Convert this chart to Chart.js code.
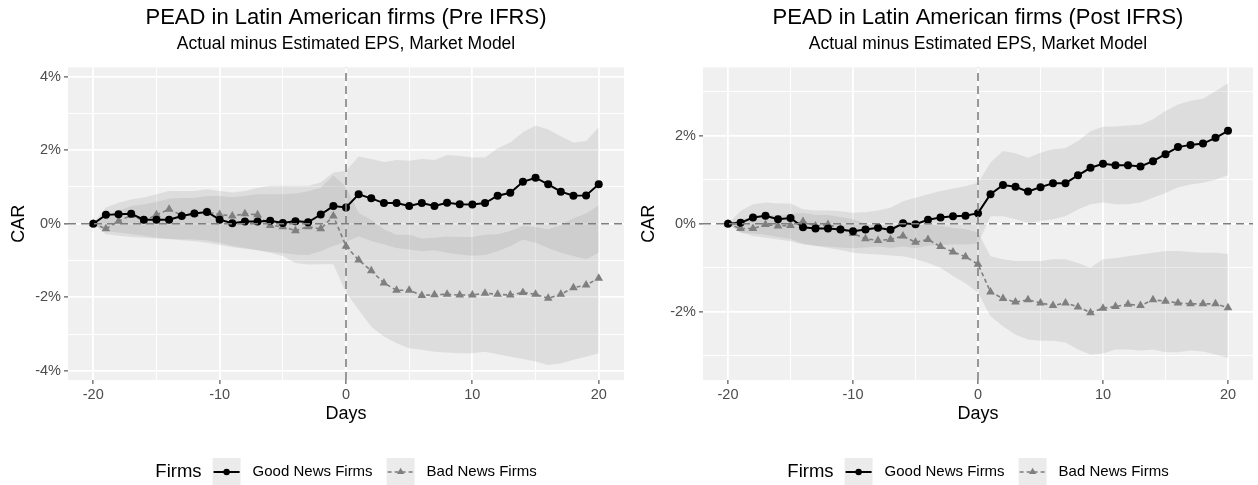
<!DOCTYPE html>
<html>
<head>
<meta charset="utf-8">
<title>PEAD in Latin American firms</title>
<script src="https://cdn.jsdelivr.net/npm/chart.js"></script>
<style>
  html, body { margin: 0; padding: 0; background: #fff; }
  .wrap { display: flex; width: 1258px; height: 485px; }
  canvas { display: block; }
</style>
</head>
<body>
<div class="wrap">
  <canvas id="chartPre" width="629" height="485"></canvas>
  <canvas id="chartPost" width="629" height="485"></canvas>
</div>
<script>
// Event days
const days = [-20, -19, -18, -17, -16, -15, -14, -13, -12, -11,
              -10, -9, -8, -7, -6, -5, -4, -3, -2, -1,
              0,
              1, 2, 3, 4, 5, 6, 7, 8, 9, 10,
              11, 12, 13, 14, 15, 16, 17, 18, 19, 20];

// Pre IFRS (CAR in %)
const preGood = [0, 0.24, 0.26, 0.27, 0.11, 0.11, 0.11, 0.21, 0.28, 0.32,
                 0.11, 0.01, 0.06, 0.06, 0.08, 0.02, 0.07, 0.04, 0.25, 0.48,
                 0.44,
                 0.80, 0.69, 0.56, 0.56, 0.48, 0.56, 0.48, 0.57, 0.53, 0.52,
                 0.56, 0.76, 0.84, 1.14, 1.25, 1.07, 0.87, 0.76, 0.77, 1.07];
const preBad = [0, -0.14, 0.07, 0.23, 0.08, 0.24, 0.39, 0.23, 0.27, 0.32,
                0.25, 0.21, 0.27, 0.24, -0.05, -0.08, -0.19, -0.08, -0.14, 0.21,
                -0.61,
                -0.99, -1.28, -1.61, -1.81, -1.81, -1.95, -1.93, -1.92, -1.94, -1.94,
                -1.89, -1.92, -1.94, -1.87, -1.92, -2.03, -1.92, -1.74, -1.67, -1.48];
const preGoodHi = [0, 0.44, 0.57, 0.66, 0.71, 0.80, 0.89, 0.89, 0.89, 0.94,
                   0.89, 0.85, 0.89, 0.98, 1.03, 1.03, 1.03, 1.03, 1.12, 1.39,
                   1.44,
                   1.83, 1.76, 1.68, 1.73, 1.71, 1.76, 1.73, 1.87, 1.84, 1.80,
                   1.80, 2.05, 2.21, 2.49, 2.67, 2.56, 2.38, 2.21, 2.25, 2.62];
const preGoodLo = [0, -0.20, -0.24, -0.28, -0.33, -0.38, -0.42, -0.45, -0.48, -0.52,
                   -0.58, -0.64, -0.68, -0.72, -0.76, -0.80, -0.84, -0.85, -0.75, -0.60,
                   -0.50,
                   -0.34, -0.47, -0.56, -0.66, -0.70, -0.75, -0.72, -0.79, -0.84, -0.87,
                   -0.85, -0.75, -0.61, -0.43, -0.52, -0.66, -0.79, -0.88, -0.97, -0.79];
const preBadHi = [0, 0.20, 0.35, 0.48, 0.52, 0.60, 0.68, 0.70, 0.70, 0.75,
                  0.75, 0.72, 0.76, 0.80, 0.80, 0.80, 0.82, 0.88, 0.98, 1.32,
                  1.00,
                  0.30, 0.10, -0.15, -0.30, -0.30, -0.40, -0.38, -0.35, -0.36, -0.36,
                  -0.30, -0.29, -0.20, -0.06, -0.09, -0.15, -0.04, 0.15, 0.28, 0.50];
const preBadLo = [0, -0.29, -0.33, -0.36, -0.38, -0.40, -0.41, -0.42, -0.43, -0.46,
                  -0.52, -0.60, -0.66, -0.72, -0.79, -0.88, -1.07, -1.11, -1.10, -1.10,
                  -1.88,
                  -2.34, -2.80, -3.07, -3.25, -3.39, -3.43, -3.48, -3.50, -3.52, -3.52,
                  -3.48, -3.55, -3.62, -3.68, -3.75, -3.84, -3.80, -3.70, -3.62, -3.52];

// Post IFRS (CAR in %)
const postGood = [0, 0.02, 0.14, 0.18, 0.10, 0.13, -0.08, -0.11, -0.11, -0.13,
                  -0.17, -0.13, -0.09, -0.14, 0.01, -0.01, 0.09, 0.14, 0.17, 0.18,
                  0.24,
                  0.67, 0.88, 0.84, 0.73, 0.83, 0.92, 0.92, 1.10, 1.27, 1.36,
                  1.33, 1.33, 1.30, 1.42, 1.58, 1.74, 1.79, 1.82, 1.95, 2.11];
const postBad = [0, -0.11, -0.11, -0.02, -0.05, -0.04, 0.05, -0.05, -0.02, -0.11,
                 -0.22, -0.34, -0.38, -0.36, -0.28, -0.42, -0.36, -0.52, -0.64, -0.75,
                 -0.92,
                 -1.55, -1.70, -1.78, -1.73, -1.80, -1.86, -1.80, -1.89, -2.02, -1.92,
                 -1.88, -1.83, -1.86, -1.73, -1.76, -1.80, -1.82, -1.82, -1.82, -1.91];
const postGoodHi = [0, 0.29, 0.44, 0.48, 0.46, 0.46, 0.33, 0.30, 0.30, 0.28,
                    0.25, 0.26, 0.30, 0.36, 0.51, 0.59, 0.67, 0.74, 0.80, 0.85,
                    0.93,
                    1.39, 1.65, 1.60, 1.50, 1.61, 1.69, 1.72, 1.88, 2.10, 2.20,
                    2.21, 2.23, 2.25, 2.37, 2.56, 2.71, 2.79, 2.84, 3.01, 3.19];
const postGoodLo = [0, -0.20, -0.22, -0.25, -0.30, -0.35, -0.45, -0.50, -0.52, -0.54,
                    -0.56, -0.54, -0.52, -0.55, -0.52, -0.55, -0.50, -0.48, -0.47, -0.47,
                    -0.45,
                    0.17, 0.17, 0.10, 0.02, 0.06, 0.10, 0.17, 0.32, 0.44, 0.48,
                    0.44, 0.44, 0.48, 0.59, 0.70, 0.82, 0.89, 0.93, 1.00, 1.10];
const postBadHi = [0, 0.10, 0.15, 0.20, 0.20, 0.22, 0.25, 0.20, 0.20, 0.15,
                   0.10, 0.00, -0.05, -0.05, 0.00, -0.05, 0.00, -0.05, -0.10, -0.12,
                   -0.20,
                   -0.74, -0.81, -0.85, -0.85, -0.85, -0.81, -0.81, -0.89, -1.00, -0.81,
                   -0.78, -0.74, -0.70, -0.66, -0.62, -0.62, -0.64, -0.66, -0.66, -0.69];
const postBadLo = [0, -0.20, -0.28, -0.32, -0.36, -0.40, -0.47, -0.50, -0.55, -0.60,
                   -0.66, -0.68, -0.70, -0.72, -0.74, -0.80, -0.89, -1.00, -1.19, -1.35,
                   -1.57,
                   -2.10, -2.33, -2.52, -2.63, -2.66, -2.66, -2.70, -2.86, -2.97, -2.95,
                   -2.86, -2.86, -2.88, -2.86, -2.92, -2.92, -2.88, -2.90, -2.97, -3.05];

// Axis ticks
const xMajor = [-20, -10, 0, 10, 20];
const xMinor = [-15, -5, 5, 15];
const yMajorPre = [-4, -2, 0, 2, 4];
const yMinorPre = [-3, -1, 1, 3];
const yMajorPost = [-2, 0, 2];
const yMinorPost = [-3, -1, 1, 3];

const seriesNames = ['Good News Firms', 'Bad News Firms'];
const legendTitle = 'Firms';
const subtitleText = 'Actual minus Estimated EPS, Market Model';

const FONT = '"Liberation Sans", Arial, sans-serif';
const PANEL = '#f0f0f0';
const RIBBON = 'rgba(140,140,140,0.18)';
const GREY = '#7f7f7f';
const X_MIN = -22, X_MAX = 22;

Chart.defaults.font.family = FONT;

// grey panel behind the grid
const panelBg = {
  id: 'panelBg',
  beforeDraw(chart) {
    const { ctx, chartArea: a } = chart;
    ctx.save();
    ctx.fillStyle = PANEL;
    ctx.fillRect(a.left, a.top, a.right - a.left, a.bottom - a.top);
    ctx.restore();
  }
};

// ggplot style legend under the panel
const firmsLegend = {
  id: 'firmsLegend',
  afterDraw(chart) {
    const { ctx, chartArea: a } = chart;
    const items = chart.data.datasets.filter(ds => ds.inLegend);
    const y = chart.height - 13;
    const key = 28;
    ctx.save();
    ctx.textBaseline = 'middle';
    ctx.textAlign = 'left';
    ctx.font = '18.5px ' + FONT;
    const titleW = ctx.measureText(legendTitle).width;
    ctx.font = '15px ' + FONT;
    const widths = items.map(ds => ctx.measureText(ds.label).width);
    let total = titleW + 11;
    widths.forEach((w, i) => { total += key + 12 + w + (i < widths.length - 1 ? 14 : 0); });
    let x = (a.left + a.right) / 2 - total / 2;

    ctx.fillStyle = '#000';
    ctx.font = '18.5px ' + FONT;
    ctx.fillText(legendTitle, x, y);
    x += titleW + 11;

    items.forEach((ds, i) => {
      ctx.fillStyle = '#ebebeb';
      ctx.fillRect(x, y - key / 2, key, key);
      ctx.strokeStyle = ds.borderColor;
      ctx.lineWidth = ds.borderWidth;
      ctx.setLineDash(ds.borderDash || []);
      ctx.beginPath();
      ctx.moveTo(x + 1, y);
      ctx.lineTo(x + key - 1, y);
      ctx.stroke();
      ctx.setLineDash([]);
      ctx.fillStyle = ds.pointBackgroundColor;
      Chart.helpers.drawPoint(ctx, { pointStyle: ds.pointStyle, radius: ds.pointRadius - 0.8, rotation: 0, borderWidth: 0 }, x + key / 2, y);
      x += key + 12;
      ctx.fillStyle = '#000';
      ctx.font = '15px ' + FONT;
      ctx.fillText(ds.label, x, y);
      x += widths[i] + 14;
    });
    ctx.restore();
  }
};

function buildChart(canvasId, cfg) {
  const ctx = document.getElementById(canvasId).getContext('2d');
  const pts = arr => days.map((d, i) => ({ x: d, y: arr[i] }));
  const xTicks = xMajor.concat(xMinor).sort((p, q) => p - q);
  const yTicks = cfg.yMajor.concat(cfg.yMinor).sort((p, q) => p - q);
  const ribbon = (arr, fill) => ({
    data: pts(arr), fill: fill, backgroundColor: RIBBON,
    borderColor: 'rgba(0,0,0,0)', borderWidth: 0, pointRadius: 0, order: 5
  });

  return new Chart(ctx, {
    type: 'line',
    data: {
      datasets: [
        { data: [{ x: X_MIN, y: 0 }, { x: X_MAX, y: 0 }], borderColor: GREY, borderWidth: 1.6,
          borderDash: [8, 5], pointRadius: 0, fill: false, order: 0 },
        { data: [{ x: 0, y: cfg.yMin }, { x: 0, y: cfg.yMax }], borderColor: GREY, borderWidth: 1.6,
          borderDash: [8, 5], pointRadius: 0, fill: false, order: 0 },
        { label: seriesNames[0], inLegend: true, data: pts(cfg.good), borderColor: '#000', borderWidth: 2,
          pointStyle: 'circle', pointRadius: 4, pointBackgroundColor: '#000', pointBorderWidth: 0, fill: false, order: 1 },
        { label: seriesNames[1], inLegend: true, data: pts(cfg.bad), borderColor: GREY, borderWidth: 1.6,
          borderDash: [4, 3], pointStyle: 'triangle', pointRadius: 5, pointBackgroundColor: GREY,
          pointBorderWidth: 0, fill: false, order: 2 },
        ribbon(cfg.goodHi, '+1'),
        ribbon(cfg.goodLo, false),
        ribbon(cfg.badHi, '+1'),
        ribbon(cfg.badLo, false)
      ]
    },
    options: {
      responsive: false,
      animation: false,
      events: [],
      layout: { padding: { left: 0, right: cfg.padRight, top: 0, bottom: 55 } },
      plugins: {
        legend: { display: false },
        tooltip: { enabled: false },
        title: {
          display: true, text: cfg.title, fullSize: false, color: '#000',
          font: { size: 22, weight: 'normal' }, padding: { top: 5, bottom: 2 }
        },
        subtitle: {
          display: true, text: subtitleText, fullSize: false, color: '#000',
          font: { size: 17.5, weight: 'normal' }, padding: { top: 0, bottom: 13 }
        }
      },
      scales: {
        x: {
          type: 'linear', min: X_MIN, max: X_MAX,
          afterBuildTicks: s => { s.ticks = xTicks.map(v => ({ value: v })); },
          afterFit: s => { s.height = 50; },
          ticks: {
            autoSkip: false, maxRotation: 0, padding: 2, color: '#4d4d4d', font: { size: 14.5 },
            callback: v => xMajor.includes(v) ? String(v) : ''
          },
          grid: {
            color: '#fff',
            lineWidth: c => c.tick && xMajor.includes(c.tick.value) ? 1.8 : 0.9,
            tickColor: c => c.tick && xMajor.includes(c.tick.value) ? '#333' : 'rgba(0,0,0,0)',
            tickLength: 4, tickWidth: 1
          },
          border: { display: false },
          title: { display: true, text: 'Days', color: '#000', font: { size: 18 }, padding: { top: 0, bottom: 5 } }
        },
        y: {
          type: 'linear', min: cfg.yMin, max: cfg.yMax,
          afterBuildTicks: s => { s.ticks = yTicks.map(v => ({ value: v })); },
          afterFit: s => { s.width = cfg.yAxisWidth; },
          ticks: {
            autoSkip: false, padding: 3, color: '#4d4d4d', font: { size: 14.5 },
            callback: v => cfg.yMajor.includes(v) ? v + '%' : ''
          },
          grid: {
            color: '#fff',
            lineWidth: c => c.tick && cfg.yMajor.includes(c.tick.value) ? 1.8 : 0.9,
            tickColor: c => c.tick && cfg.yMajor.includes(c.tick.value) ? '#333' : 'rgba(0,0,0,0)',
            tickLength: 4, tickWidth: 1
          },
          border: { display: false },
          title: { display: true, text: 'CAR', color: '#000', font: { size: 18 }, padding: { top: cfg.carPad, bottom: 0 } }
        }
      }
    },
    plugins: [panelBg, firmsLegend]
  });
}

buildChart('chartPre', {
  title: 'PEAD in Latin American firms (Pre IFRS)',
  good: preGood, bad: preBad,
  goodHi: preGoodHi, goodLo: preGoodLo, badHi: preBadHi, badLo: preBadLo,
  yMin: -4.25, yMax: 4.25, yMajor: yMajorPre, yMinor: yMinorPre,
  yAxisWidth: 68, padRight: 4, carPad: 8
});

buildChart('chartPost', {
  title: 'PEAD in Latin American firms (Post IFRS)',
  good: postGood, bad: postBad,
  goodHi: postGoodHi, goodLo: postGoodLo, badHi: postBadHi, badLo: postBadLo,
  yMin: -3.55, yMax: 3.55, yMajor: yMajorPost, yMinor: yMinorPost,
  yAxisWidth: 74, padRight: 3, carPad: 9
});
</script>
</body>
</html>
